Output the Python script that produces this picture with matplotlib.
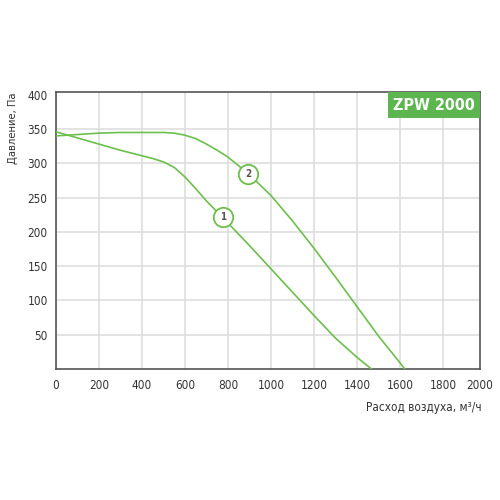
import matplotlib
matplotlib.use("Agg")
import matplotlib.pyplot as plt
from matplotlib.patches import Rectangle

plt.rcParams["font.family"] = ["DejaVu Sans"]
plt.rcParams["font.stretch"] = "condensed"

# curve 1
flow_1 = [0, 100, 200, 300, 400, 450, 500, 550, 600, 650, 700, 775, 900, 1000, 1100, 1200, 1300, 1400, 1467]
pres_1 = [346, 337, 328, 319, 311, 307, 302, 294, 280, 263, 245, 221, 180, 146, 112, 78, 45, 17, 0]
# curve 2
flow_2 = [0, 100, 200, 300, 400, 500, 550, 600, 650, 700, 750, 800, 894, 1000, 1100, 1200, 1300, 1400, 1500, 1600, 1622]
pres_2 = [340, 342, 344, 345, 345, 345, 344, 341, 336, 328, 319, 309, 285, 253, 216, 176, 134, 91, 48, 9, 0]

marks = [("1", 775, 221), ("2", 894, 285)]

x_ticks = [0, 200, 400, 600, 800, 1000, 1200, 1400, 1600, 1800, 1972]
x_labels = ["0", "200", "400", "600", "800", "1000", "1200", "1400", "1600", "1800", "2000"]
y_ticks = [50, 100, 150, 200, 250, 300, 350, 400]

green = "#6cbf4c"
badge_green = "#5cb54f"
text_col = "#333333"

fig = plt.figure(figsize=(5, 5), dpi=100)
ax = fig.add_axes([0.112, 0.262, 0.848, 0.554])

ax.plot(flow_1, pres_1, color=green, lw=1.2, zorder=3)
ax.plot(flow_2, pres_2, color=green, lw=1.2, zorder=3)

for name, fx, py in marks:
    ax.plot(fx, py, marker="o", markersize=14, markerfacecolor="white",
            markeredgecolor=green, markeredgewidth=1.3, zorder=4)
    ax.text(fx, py, name, ha="center", va="center", fontsize=7, color="#555555",
            fontweight="bold", zorder=5)

ax.set_xlim(0, 1972)
ax.set_ylim(0, 404)
ax.set_xticks(x_ticks)
ax.set_xticklabels(x_labels)
ax.set_yticks(y_ticks)
ax.tick_params(length=0, labelsize=8.5, colors=text_col, pad=7)
ax.tick_params(axis="y", pad=6)

ax.grid(color="#dedede", lw=1.2)
ax.set_axisbelow(True)
ax.get_ygridlines()[-1].set_visible(False)
ax.get_xgridlines()[-1].set_visible(False)
for s in ax.spines.values():
    s.set_color("#555555")
    s.set_linewidth(1.2)

# badge
ax.add_patch(Rectangle((0.782, 0.906), 0.218, 0.094, transform=ax.transAxes,
                       facecolor=badge_green, edgecolor="none", zorder=6))
ax.text(0.891, 0.953, "ZPW 2000", transform=ax.transAxes, ha="center", va="center",
        fontsize=11.5, color="white", fontweight="bold", zorder=7)

fig.text(0.964, 0.186, "Расход воздуха, м³/ч", ha="right", va="center",
         fontsize=8.5, color=text_col)
fig.text(0.026, 0.816, "Давление, Па", ha="center", va="top", rotation=90,
         fontsize=8, color=text_col)

fig.savefig("out.png", dpi=100)
